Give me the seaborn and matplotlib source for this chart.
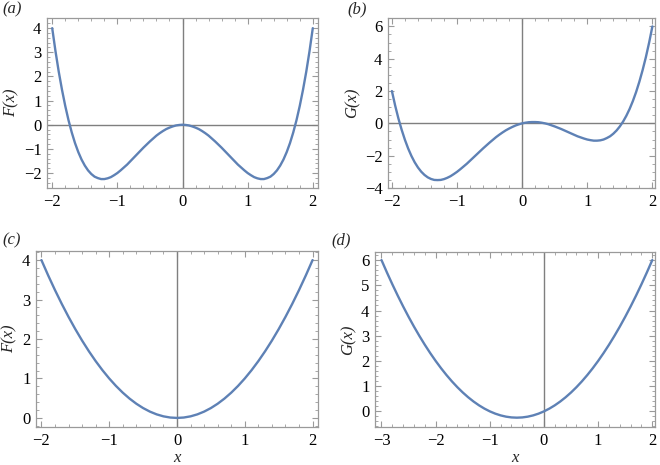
import numpy as np
import pandas as pd
import seaborn as sns
import matplotlib.pyplot as plt
from matplotlib.ticker import MultipleLocator

# -----------------------------
# Data
# -----------------------------
x_ab = [-2.00, -1.95, -1.90, -1.85, -1.80, -1.75, -1.70, -1.65, -1.60, -1.55,
        -1.50, -1.45, -1.40, -1.35, -1.30, -1.25, -1.20, -1.15, -1.10, -1.05,
        -1.00, -0.95, -0.90, -0.85, -0.80, -0.75, -0.70, -0.65, -0.60, -0.55,
        -0.50, -0.45, -0.40, -0.35, -0.30, -0.25, -0.20, -0.15, -0.10, -0.05,
        0.00, 0.05, 0.10, 0.15, 0.20, 0.25, 0.30, 0.35, 0.40, 0.45,
        0.50, 0.55, 0.60, 0.65, 0.70, 0.75, 0.80, 0.85, 0.90, 0.95,
        1.00, 1.05, 1.10, 1.15, 1.20, 1.25, 1.30, 1.35, 1.40, 1.45,
        1.50, 1.55, 1.60, 1.65, 1.70, 1.75, 1.80, 1.85, 1.90, 1.95, 2.00]

F_a = [4.00, 3.05, 2.20, 1.45, 0.78, 0.19, -0.32, -0.76, -1.13, -1.44,
       -1.69, -1.89, -2.04, -2.15, -2.21, -2.25, -2.25, -2.22, -2.17, -2.09,
       -2.00, -1.89, -1.77, -1.65, -1.51, -1.37, -1.23, -1.09, -0.95, -0.82,
       -0.69, -0.57, -0.45, -0.35, -0.26, -0.18, -0.12, -0.07, -0.03, -0.01,
       0.00, -0.01, -0.03, -0.07, -0.12, -0.18, -0.26, -0.35, -0.45, -0.57,
       -0.69, -0.82, -0.95, -1.09, -1.23, -1.37, -1.51, -1.65, -1.77, -1.89,
       -2.00, -2.09, -2.17, -2.22, -2.25, -2.25, -2.21, -2.15, -2.04, -1.89,
       -1.69, -1.44, -1.13, -0.76, -0.32, 0.19, 0.78, 1.45, 2.20, 3.05, 4.00]

G_b = [2.00, 1.10, 0.30, -0.40, -1.02, -1.56, -2.02, -2.41, -2.73, -2.99,
       -3.19, -3.34, -3.44, -3.50, -3.51, -3.50, -3.45, -3.37, -3.27, -3.14,
       -3.00, -2.84, -2.67, -2.50, -2.31, -2.12, -1.93, -1.74, -1.55, -1.37,
       -1.19, -1.02, -0.85, -0.70, -0.56, -0.43, -0.32, -0.22, -0.13, -0.06,
       0.00, 0.04, 0.07, 0.08, 0.08, 0.07, 0.04, 0.00, -0.05, -0.12,
       -0.19, -0.27, -0.35, -0.44, -0.53, -0.62, -0.71, -0.80, -0.87, -0.94,
       -1.00, -1.04, -1.07, -1.07, -1.05, -1.00, -0.91, -0.80, -0.64, -0.44,
       -0.19, 0.11, 0.47, 0.89, 1.38, 1.94, 2.58, 3.30, 4.10, 5.00, 6.00]

x_c = [-2.0, -1.9, -1.8, -1.7, -1.6, -1.5, -1.4, -1.3, -1.2, -1.1, -1.0,
       -0.9, -0.8, -0.7, -0.6, -0.5, -0.4, -0.3, -0.2, -0.1, 0.0,
       0.1, 0.2, 0.3, 0.4, 0.5, 0.6, 0.7, 0.8, 0.9, 1.0,
       1.1, 1.2, 1.3, 1.4, 1.5, 1.6, 1.7, 1.8, 1.9, 2.0]

F_c = [4.00, 3.61, 3.24, 2.89, 2.56, 2.25, 1.96, 1.69, 1.44, 1.21, 1.00,
       0.81, 0.64, 0.49, 0.36, 0.25, 0.16, 0.09, 0.04, 0.01, 0.00,
       0.01, 0.04, 0.09, 0.16, 0.25, 0.36, 0.49, 0.64, 0.81, 1.00,
       1.21, 1.44, 1.69, 1.96, 2.25, 2.56, 2.89, 3.24, 3.61, 4.00]

x_d = [-3.0, -2.9, -2.8, -2.7, -2.6, -2.5, -2.4, -2.3, -2.2, -2.1, -2.0,
       -1.9, -1.8, -1.7, -1.6, -1.5, -1.4, -1.3, -1.2, -1.1, -1.0,
       -0.9, -0.8, -0.7, -0.6, -0.5, -0.4, -0.3, -0.2, -0.1, 0.0,
       0.1, 0.2, 0.3, 0.4, 0.5, 0.6, 0.7, 0.8, 0.9, 1.0,
       1.1, 1.2, 1.3, 1.4, 1.5, 1.6, 1.7, 1.8, 1.9, 2.0]

G_d = [6.00, 5.51, 5.04, 4.59, 4.16, 3.75, 3.36, 2.99, 2.64, 2.31, 2.00,
       1.71, 1.44, 1.19, 0.96, 0.75, 0.56, 0.39, 0.24, 0.11, 0.00,
       -0.09, -0.16, -0.21, -0.24, -0.25, -0.24, -0.21, -0.16, -0.09, 0.00,
       0.11, 0.24, 0.39, 0.56, 0.75, 0.96, 1.19, 1.44, 1.71, 2.00,
       2.31, 2.64, 2.99, 3.36, 3.75, 4.16, 4.59, 5.04, 5.51, 6.00]

panel_tags = ["(a)", "(b)", "(c)", "(d)"]
y_labels = ["F(x)", "G(x)", "F(x)", "G(x)"]

# -----------------------------
# Style
# -----------------------------
sns.set_style("ticks")
plt.rcParams["font.family"] = "serif"
plt.rcParams["font.serif"] = ["Liberation Serif", "DejaVu Serif"]

line_color = "#5e81b5"
frame_color = "#9a9a9a"
axis_color = "#7f7f7f"

fig = plt.figure(figsize=(6.6, 4.65), dpi=100)
W, H = 660, 465


def add_axes_px(left, top, right, bottom):
    return fig.add_axes([left / W, 1 - bottom / H, (right - left) / W, (bottom - top) / H])


def minus_fmt(v, _):
    return f"{v:.0f}".replace("-", "\u2212")


panels = [
    dict(box=(47, 18, 318, 188), x=x_ab, y=F_a, xlim=(-2.08, 2.08), ylim=(-2.62, 4.42),
         ymaj=1, ymin=0.2, hline=True),
    dict(box=(388, 18, 655, 188), x=x_ab, y=G_b, xlim=(-2.06, 2.04), ylim=(-4.0, 6.52),
         ymaj=2, ymin=0.5, hline=True),
    dict(box=(36, 251, 318, 427), x=x_c, y=F_c, xlim=(-2.08, 2.08), ylim=(-0.23, 4.23),
         ymaj=1, ymin=0.2, hline=False),
    dict(box=(375, 252, 655, 427), x=x_d, y=G_d, xlim=(-3.12, 2.05), ylim=(-0.62, 6.32),
         ymaj=1, ymin=0.2, hline=False),
]

for i, p in enumerate(panels):
    ax = add_axes_px(*p["box"])
    df = pd.DataFrame({"x": p["x"], "y": p["y"]})

    # axes through the origin
    ax.axvline(0, color=axis_color, lw=1.0, zorder=1)
    if p["hline"]:
        ax.axhline(0, color=axis_color, lw=1.0, zorder=1)

    sns.lineplot(data=df, x="x", y="y", ax=ax, color=line_color, lw=1.7,
                 sort=False, zorder=3)

    ax.set_xlim(*p["xlim"])
    ax.set_ylim(*p["ylim"])
    ax.xaxis.set_major_locator(MultipleLocator(1))
    ax.xaxis.set_minor_locator(MultipleLocator(0.2))
    ax.yaxis.set_major_locator(MultipleLocator(p["ymaj"]))
    ax.yaxis.set_minor_locator(MultipleLocator(p["ymin"]))
    ax.xaxis.set_major_formatter(plt.FuncFormatter(minus_fmt))
    ax.yaxis.set_major_formatter(plt.FuncFormatter(minus_fmt))

    ax.tick_params(which="both", direction="in", top=True, right=True,
                   color=frame_color, labelsize=12, labelcolor="black")
    ax.tick_params(which="major", length=4, width=0.8, pad=4)
    ax.tick_params(which="minor", length=2, width=0.6)
    for s in ax.spines.values():
        s.set_color(frame_color)
        s.set_linewidth(0.9)

    ax.set_ylabel(y_labels[i], fontsize=12, fontstyle="italic", labelpad=3)
    if i >= 2:
        ax.set_xlabel("x", fontsize=12, fontstyle="italic", labelpad=1)
    else:
        ax.set_xlabel("")

# panel tags
fig.text(2 / W, 1 - 9 / H, panel_tags[0], fontsize=12, fontstyle="italic", va="center")
fig.text(347 / W, 1 - 9 / H, panel_tags[1], fontsize=12, fontstyle="italic", va="center")
fig.text(2 / W, 1 - 240 / H, panel_tags[2], fontsize=12, fontstyle="italic", va="center")
fig.text(331 / W, 1 - 240 / H, panel_tags[3], fontsize=12, fontstyle="italic", va="center")

fig.savefig("out.png", dpi=100)
